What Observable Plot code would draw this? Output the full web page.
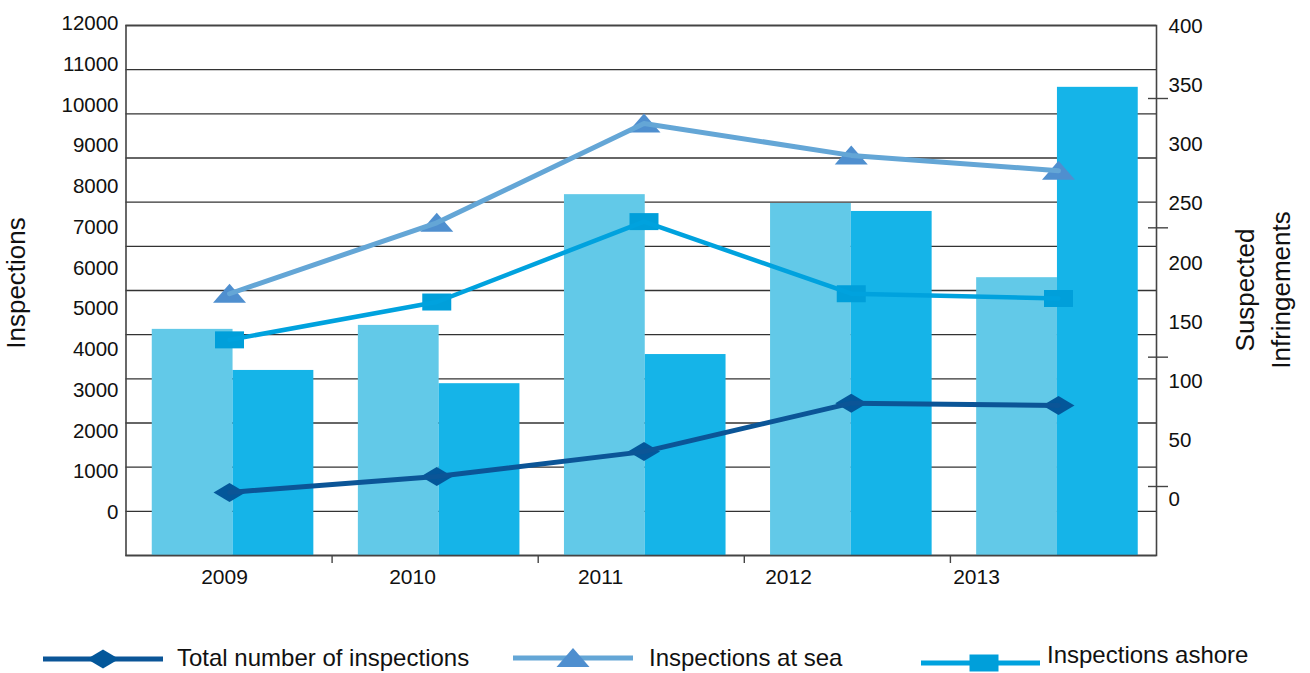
<!DOCTYPE html>
<html>
<head>
<meta charset="utf-8">
<script src="https://cdn.jsdelivr.net/npm/d3@7"></script>
<script src="https://cdn.jsdelivr.net/npm/@observablehq/plot@0.6"></script>
<style>
  body { margin: 0; background: #fff; font-family: "Liberation Sans", Arial, sans-serif; }
  #chart { position: relative; width: 1310px; height: 673px; overflow: hidden; }
  #chart svg.layer { position: absolute; left: 0; top: 0; }
  .title { position: absolute; transform: translate(-50%, -50%) rotate(-90deg); white-space: nowrap;
           text-align: center; font-size: 26px; color: #111; }
  .legend-text { position: absolute; font-size: 24px; line-height: 24px; color: #111; white-space: nowrap; }
</style>
</head>
<body>
<div id="chart"></div>
<script>
// ---- data ----
const years = ["2009", "2010", "2011", "2012", "2013"];
// inspections (left axis), two bar series per year
const barsLight = [5120, 5210, 8170, 7970, 6290];
const barsDark  = [4190, 3890, 4550, 7790, 10600];
// line series (right axis)
const totalInspections  = [6, 19.5, 40.5, 81.5, 79.5];
const inspectionsAtSea  = [174, 234, 318, 291, 278];
const inspectionsAshore = [135, 167, 235, 174, 170];
// axis ticks
const leftTicks  = [0, 1000, 2000, 3000, 4000, 5000, 6000, 7000, 8000, 9000, 10000, 11000, 12000];
const rightTicks = [0, 50, 100, 150, 200, 250, 300, 350, 400];
const rightMinorTicks = [0, 100, 200, 300];
const yearBoundaries = [1, 2, 3, 4];

// ---- layout ----
const W = 1310, H = 600;
const plotLeft = 125.5, plotRight = 1156, plotTop = 25, plotBottom = 555;
const padInner = 0.216, padOuter = padInner / 2;
const barRange = [129.5, 1160];
const lineRange = [125.4, 1161.6];
const step = (barRange[1] - barRange[0]) / (years.length - padInner + 2 * padOuter);
const halfBar = step * (1 - padInner) / 2;
const font = "'Liberation Sans', Arial, sans-serif";
const baseStyle = { background: "transparent", overflow: "visible", fontFamily: font, fontSize: "20.5px", color: "#111" };
const bandScale = range => ({ type: "band", domain: years, range, paddingInner: padInner, paddingOuter: padOuter, round: false, axis: null });

// marker shapes (wide, flat glyphs)
const diamondMark  = { draw(c) { c.moveTo(-16, 0); c.lineTo(0, -9.5); c.lineTo(16, 0); c.lineTo(0, 9.5); c.closePath(); } };
const triangleMark = { draw(c) { c.moveTo(0, -10); c.lineTo(16.5, 9); c.lineTo(-16.5, 9); c.closePath(); } };
const boxMark      = { draw(c) { c.rect(-14.5, -8.5, 29, 17); } };

const series = [
  { name: "Total number of inspections", values: totalInspections,  line: "#0b5597", fill: "#03579a", symbol: diamondMark, width: 5 },
  { name: "Inspections at sea",          values: inspectionsAtSea,  line: "#64a6d6", fill: "#4f8fcf", symbol: triangleMark, width: 5 },
  { name: "Inspections ashore",          values: inspectionsAshore, line: "#00a2de", fill: "#009fda", symbol: boxMark, width: 4.5 }
];

const chart = document.getElementById("chart");
function addLayer(svg) { svg.classList.add("layer"); chart.appendChild(svg); }

// bars, gridlines and frame
const barRows = years.map((year, i) => ({ year, light: barsLight[i], dark: barsDark[i] }));
addLayer(Plot.plot({
  width: W, height: H,
  marginLeft: plotLeft, marginRight: W - plotRight, marginTop: plotTop, marginBottom: H - plotBottom,
  x: bandScale(barRange),
  y: { domain: [0, 12000], axis: null },
  style: baseStyle,
  marks: [
    Plot.ruleY(leftTicks, { stroke: "#333", strokeWidth: 1.4 }),
    Plot.barY(barRows, { x: "year", y: "light", fill: "#62c9e8", insetRight: halfBar }),
    Plot.barY(barRows, { x: "year", y: "dark", fill: "#15b4e8", insetLeft: halfBar }),
    Plot.frame({ stroke: "#444", strokeWidth: 1.6 })
  ]
}));

// line series with markers, plus right axis labels
const lineMarks = [];
for (const s of series) {
  lineMarks.push(Plot.dot(years, { x: d => d, y: (d, i) => s.values[i], symbol: s.symbol, fill: s.fill, stroke: "none" }));
  lineMarks.push(Plot.lineY(years, { x: d => d, y: (d, i) => s.values[i], stroke: s.line, strokeWidth: s.width }));
}
addLayer(Plot.plot({
  width: W, height: H,
  marginLeft: plotLeft, marginRight: W - plotRight, marginTop: plotTop, marginBottom: H - plotBottom,
  x: bandScale(lineRange),
  y: { domain: [0, 400], range: [499, 26] },
  style: baseStyle,
  marks: [
    ...lineMarks,
    Plot.axisY(rightTicks, { anchor: "right", tickSize: 0, tickPadding: 12, label: null, tickFormat: d => String(d) })
  ]
}));

// left axis labels and year separators on the bottom axis
addLayer(Plot.plot({
  width: W, height: H,
  marginLeft: 126, marginRight: W - plotRight, marginTop: plotTop, marginBottom: H - plotBottom,
  x: { type: "linear", domain: [0, years.length], range: [plotLeft, plotRight] },
  y: { domain: [0, 12000], range: [512, 23] },
  style: baseStyle,
  marks: [
    Plot.axisY(leftTicks, { anchor: "left", tickSize: 0, tickPadding: 8, label: null, tickFormat: d => String(d) }),
    Plot.axisX(yearBoundaries, { anchor: "bottom", tickSize: 8, tickFormat: () => "", label: null, stroke: "#444", strokeWidth: 1.4 })
  ]
}));

// year labels and crossing ticks on the right axis
addLayer(Plot.plot({
  width: W, height: H,
  marginLeft: 126, marginRight: W - 1147, marginTop: plotTop, marginBottom: H - plotBottom,
  x: { type: "point", domain: years, range: [222.5, 976.5], padding: 0 },
  y: { domain: [0, 300], range: [486, 98] },
  style: baseStyle,
  marks: [
    Plot.axisX({ anchor: "bottom", tickSize: 0, tickPadding: 14, label: null, fontSize: 21 }),
    Plot.axisY(rightMinorTicks, { anchor: "right", tickSize: 20, tickFormat: () => "", label: null, stroke: "#444", strokeWidth: 1.4 })
  ]
}));

// axis titles
function addTitle(html, cx, cy, lineHeight) {
  const div = document.createElement("div");
  div.className = "title";
  div.innerHTML = html;
  div.style.left = cx + "px";
  div.style.top = cy + "px";
  div.style.lineHeight = lineHeight + "px";
  chart.appendChild(div);
}
addTitle("Inspections", 16, 283, 26);
addTitle("Suspected<br>Infringements", 1262.5, 290, 36);

// legend
const legendItems = [
  { s: series[0], x1: 43, x2: 163, cx: 103, cy: 659, textX: 177, textY: 658 },
  { s: series[1], x1: 513, x2: 633, cx: 573, cy: 658, textX: 649, textY: 658 },
  { s: series[2], x1: 921, x2: 1040, cx: 984, cy: 663, textX: 1047, textY: 654.5 }
];
const legendSvg = d3.create("svg")
  .attr("width", W).attr("height", 673)
  .style("position", "absolute").style("left", "0px").style("top", "0px");
for (const item of legendItems) {
  legendSvg.append("line")
    .attr("x1", item.x1).attr("x2", item.x2).attr("y1", item.cy).attr("y2", item.cy)
    .attr("stroke", item.s.line).attr("stroke-width", 5);
  legendSvg.append("path")
    .attr("d", d3.symbol(item.s.symbol)())
    .attr("transform", `translate(${item.cx},${item.cy})`)
    .attr("fill", item.s.fill);
  const t = document.createElement("div");
  t.className = "legend-text";
  t.textContent = item.s.name;
  t.style.left = item.textX + "px";
  t.style.top = (item.textY - 11.8) + "px";
  chart.appendChild(t);
}
chart.appendChild(legendSvg.node());
</script>
</body>
</html>
